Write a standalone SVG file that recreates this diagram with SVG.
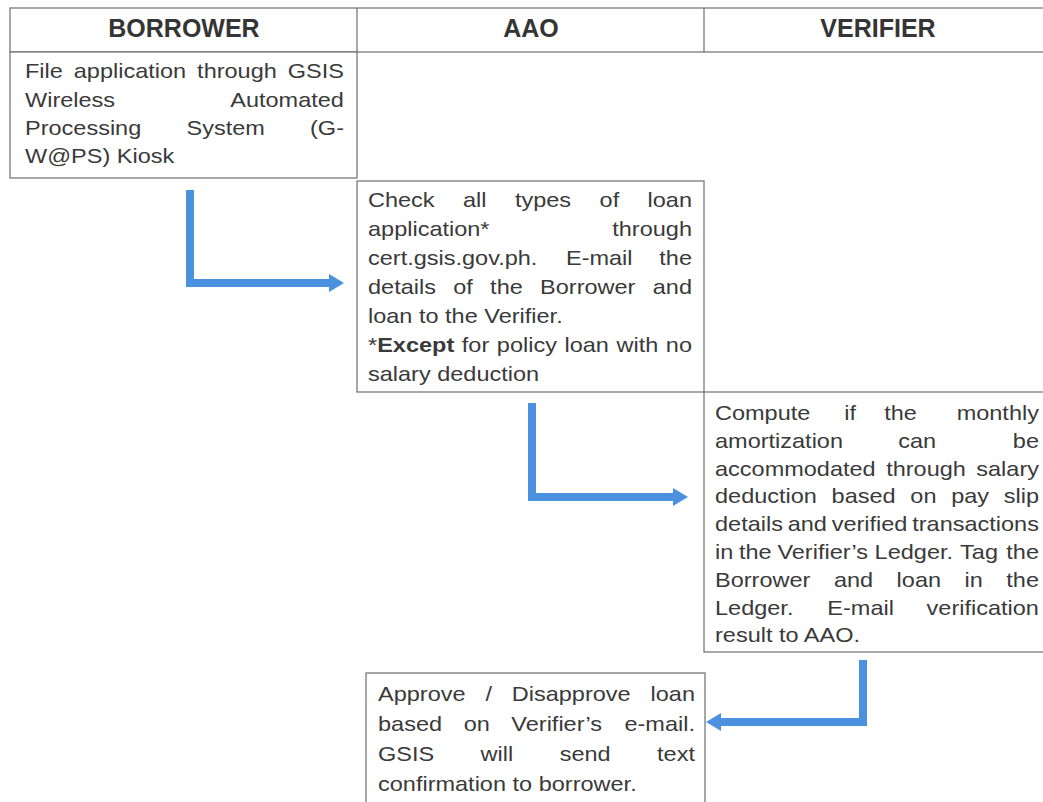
<svg xmlns="http://www.w3.org/2000/svg" width="1043" height="802" viewBox="0 0 1043 802">
<style>
.bg{fill:#ffffff}
.cell{fill:#ffffff;stroke:#6f6f6f;stroke-width:1.2}
.ln{stroke:#6f6f6f;stroke-width:1.2;fill:none}
.h{font-family:"Liberation Sans",Arial,sans-serif;font-size:25px;font-weight:bold;fill:#353535;text-anchor:middle}
.t{font-family:"Liberation Sans",Arial,sans-serif;font-size:21px;fill:#3a3a3a}
.b{font-weight:bold}
.conn{fill:none;stroke:#4b91e0;stroke-width:8;stroke-linejoin:miter;marker-end:url(#ah)}
</style>
<defs>
<marker id="ah" markerUnits="userSpaceOnUse" markerWidth="16" markerHeight="20" refX="2" refY="10" orient="auto">
<path d="M0,1 L15,10 L0,19 Z" fill="#4b91e0"/>
</marker>
</defs>
<rect class="bg" x="0" y="0" width="1043" height="802"/>

<g id="header">
<rect class="cell" x="10" y="8" width="1042" height="44"/>
<line class="ln" x1="357" y1="8" x2="357" y2="52"/>
<line class="ln" x1="704" y1="8" x2="704" y2="52"/>
<text class="h" x="184" y="37">BORROWER</text>
<text class="h" x="531" y="37">AAO</text>
<text class="h" x="878" y="37">VERIFIER</text>
</g>

<g id="borrower-file">
<rect class="cell" x="10" y="52" width="347" height="126"/>
<g transform="scale(1.12 1)">
<text class="t" y="78.5"><tspan x="22.32">File </tspan><tspan x="65.89">application </tspan><tspan x="176.01">through </tspan><tspan x="256.95">GSIS</tspan></text>
<text class="t" y="106.8"><tspan x="22.32">Wireless </tspan><tspan x="205.58">Automated</tspan></text>
<text class="t" y="135.1"><tspan x="22.32">Processing </tspan><tspan x="166.5">System </tspan><tspan x="276.82">(G-</tspan></text>
<text class="t" y="163.4" x="22.32">W@PS) Kiosk</text>
</g>
</g>

<g id="aao-check">
<rect class="cell" x="357" y="181" width="347" height="211"/>
<g transform="scale(1.12 1)">
<text class="t" y="207"><tspan x="328.57">Check </tspan><tspan x="413.43">all </tspan><tspan x="459.78">types </tspan><tspan x="535.32">of </tspan><tspan x="578.17">loan</tspan></text>
<text class="t" y="236"><tspan x="328.57">application* </tspan><tspan x="546.65">through</tspan></text>
<text class="t" y="265"><tspan x="328.57">cert.gsis.gov.ph. </tspan><tspan x="505.33">E-mail </tspan><tspan x="588.67">the</tspan></text>
<text class="t" y="294"><tspan x="328.57">details </tspan><tspan x="404.68">of </tspan><tspan x="437.61">the </tspan><tspan x="482.22">Borrower </tspan><tspan x="582.83">and</tspan></text>
<text class="t" y="323" x="328.57">loan to the Verifier.</text>
<text class="t" y="352"><tspan x="328.57">*</tspan><tspan class="b">Except</tspan><tspan x="412.34">for </tspan><tspan x="443.59">policy </tspan><tspan x="504.01">loan </tspan><tspan x="550.44">with </tspan><tspan x="594.51">no</tspan></text>
<text class="t" y="381" x="328.57">salary deduction</text>
</g>
</g>

<g id="verifier-compute">
<rect class="cell" x="704" y="392" width="348" height="260"/>
<g transform="scale(1.12 1)">
<text class="t" y="420"><tspan x="638.39">Compute </tspan><tspan x="753.88">if </tspan><tspan x="789.5">the </tspan><tspan x="854.16">monthly</tspan></text>
<text class="t" y="447.8"><tspan x="638.39">amortization </tspan><tspan x="802">can </tspan><tspan x="904.33">be</tspan></text>
<text class="t" y="475.6"><tspan x="638.39">accommodated </tspan><tspan x="791.21">through </tspan><tspan x="871.67">salary</tspan></text>
<text class="t" y="503.4"><tspan x="638.39">deduction </tspan><tspan x="742.53">based </tspan><tspan x="812.81">on </tspan><tspan x="849.24">pay </tspan><tspan x="896.18">slip</tspan></text>
<text class="t" y="531.2"><tspan x="638.39">details </tspan><tspan x="703.31">and </tspan><tspan x="742.57">verified </tspan><tspan x="814.47">transactions</tspan></text>
<text class="t" y="559"><tspan x="638.39">in </tspan><tspan x="659.83">the </tspan><tspan x="694.12">Verifier’s </tspan><tspan x="780.89">Ledger. </tspan><tspan x="857.2">Tag </tspan><tspan x="898.49">the</tspan></text>
<text class="t" y="586.8"><tspan x="638.39">Borrower </tspan><tspan x="744.54">and </tspan><tspan x="800.54">loan </tspan><tspan x="861.2">in </tspan><tspan x="898.49">the</tspan></text>
<text class="t" y="614.6"><tspan x="638.39">Ledger. </tspan><tspan x="738.72">E-mail </tspan><tspan x="827.32">verification</tspan></text>
<text class="t" y="642.4" x="638.39">result to AAO.</text>
</g>
</g>

<g id="aao-approve">
<rect class="cell" x="366" y="673" width="339" height="140"/>
<g transform="scale(1.12 1)">
<text class="t" y="701"><tspan x="337.5">Approve </tspan><tspan x="433.4">/ </tspan><tspan x="456.94">Disapprove </tspan><tspan x="580.85">loan</tspan></text>
<text class="t" y="731"><tspan x="337.5">based </tspan><tspan x="413.97">on </tspan><tspan x="456.59">Verifier’s </tspan><tspan x="557.54">e-mail.</tspan></text>
<text class="t" y="761"><tspan x="337.5">GSIS </tspan><tspan x="429.13">will </tspan><tspan x="499.72">send </tspan><tspan x="586.69">text</tspan></text>
<text class="t" y="791" x="337.5">confirmation to borrower.</text>
</g>
</g>

<g id="connectors">
<path class="conn" d="M190,190 V283 H331"/>
<path class="conn" d="M532,403 V497 H675"/>
<path class="conn" d="M863,660 V722 H719"/>
</g>
</svg>
